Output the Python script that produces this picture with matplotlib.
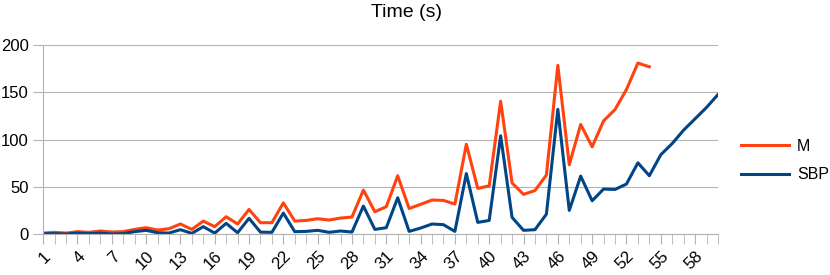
import matplotlib
matplotlib.use("Agg")
import matplotlib.pyplot as plt
from matplotlib.ticker import MultipleLocator

plt.rcParams['font.family'] = ['Liberation Sans', 'DejaVu Sans']

runs = list(range(1, 61))
m_time = [1, 1.8, 1, 2.5, 1.8, 3.2, 2.1, 2.5, 4.9, 6.7,
          4.2, 5.6, 10.6, 4.9, 13.7, 7.8, 18.3, 10.6, 26, 12,
          12, 33, 13.7, 14.4, 16.2, 14.8, 16.9, 18, 46.5, 23.6,
          28.9, 61.7, 27, 31.4, 36, 35.6, 31.7, 95, 48.3, 51,
          140.6, 54, 42, 46, 62.4, 178.6, 73.3, 116, 92.3, 119.8,
          131.8, 153, 181, 177]
sbp_time = [0.4, 0.4, 0, 1, 0.4, 1, 0, 0.4, 2.5, 3.9,
            1.4, 1, 4.6, 0.7, 7.8, 1, 11.3, 1.4, 16.6, 2,
            1.8, 22.2, 2.5, 2.8, 3.9, 1.8, 3.2, 2.1, 29.6, 4.9,
            6.7, 38.4, 2.8, 6.3, 10.6, 9.9, 2.8, 64, 12.3, 14.4,
            104, 17.6, 3.9, 4.6, 21, 132, 25, 61.3, 35.2, 47.6,
            47.2, 52.9, 75.4, 61.7, 83.9, 95.8, 110, 122, 134, 147.6]

fig = plt.figure(figsize=(8.3, 2.75), dpi=100)
ax = fig.add_axes([0.052, 0.149, 0.813, 0.687])

ax.plot(runs[:len(m_time)], m_time, color="#ff420e", lw=2.2, label="M")
ax.plot(runs, sbp_time, color="#004586", lw=2.2, label="SBP")

ax.set_xlim(1, 60)
ax.set_ylim(0, 200)
ax.yaxis.set_major_locator(MultipleLocator(50))
ax.set_xticks(runs[::3])
ax.xaxis.set_minor_locator(MultipleLocator(1))
ax.tick_params(axis="x", which="both", length=7, color="#b3b3b3", labelsize=12,
               labelrotation=45)
ax.tick_params(axis="y", length=7, color="#b3b3b3", labelsize=12)
for lbl in ax.get_xticklabels():
    lbl.set_ha("right")
    lbl.set_va("top")
    lbl.set_rotation_mode("anchor")

ax.grid(axis="y", color="#b3b3b3", lw=0.8)
ax.set_axisbelow(True)
for side in ["top", "right"]:
    ax.spines[side].set_visible(False)
for side in ["left", "bottom"]:
    ax.spines[side].set_color("#b3b3b3")

fig.text(0.49, 0.955, "Time (s)", ha="center", va="center", fontsize=14)
ax.legend(loc="center left", bbox_to_anchor=(1.013, 0.39), frameon=False,
          fontsize=11.5, handlelength=3.0, handletextpad=0.5, labelspacing=0.85)

fig.savefig("out.png", dpi=100)
